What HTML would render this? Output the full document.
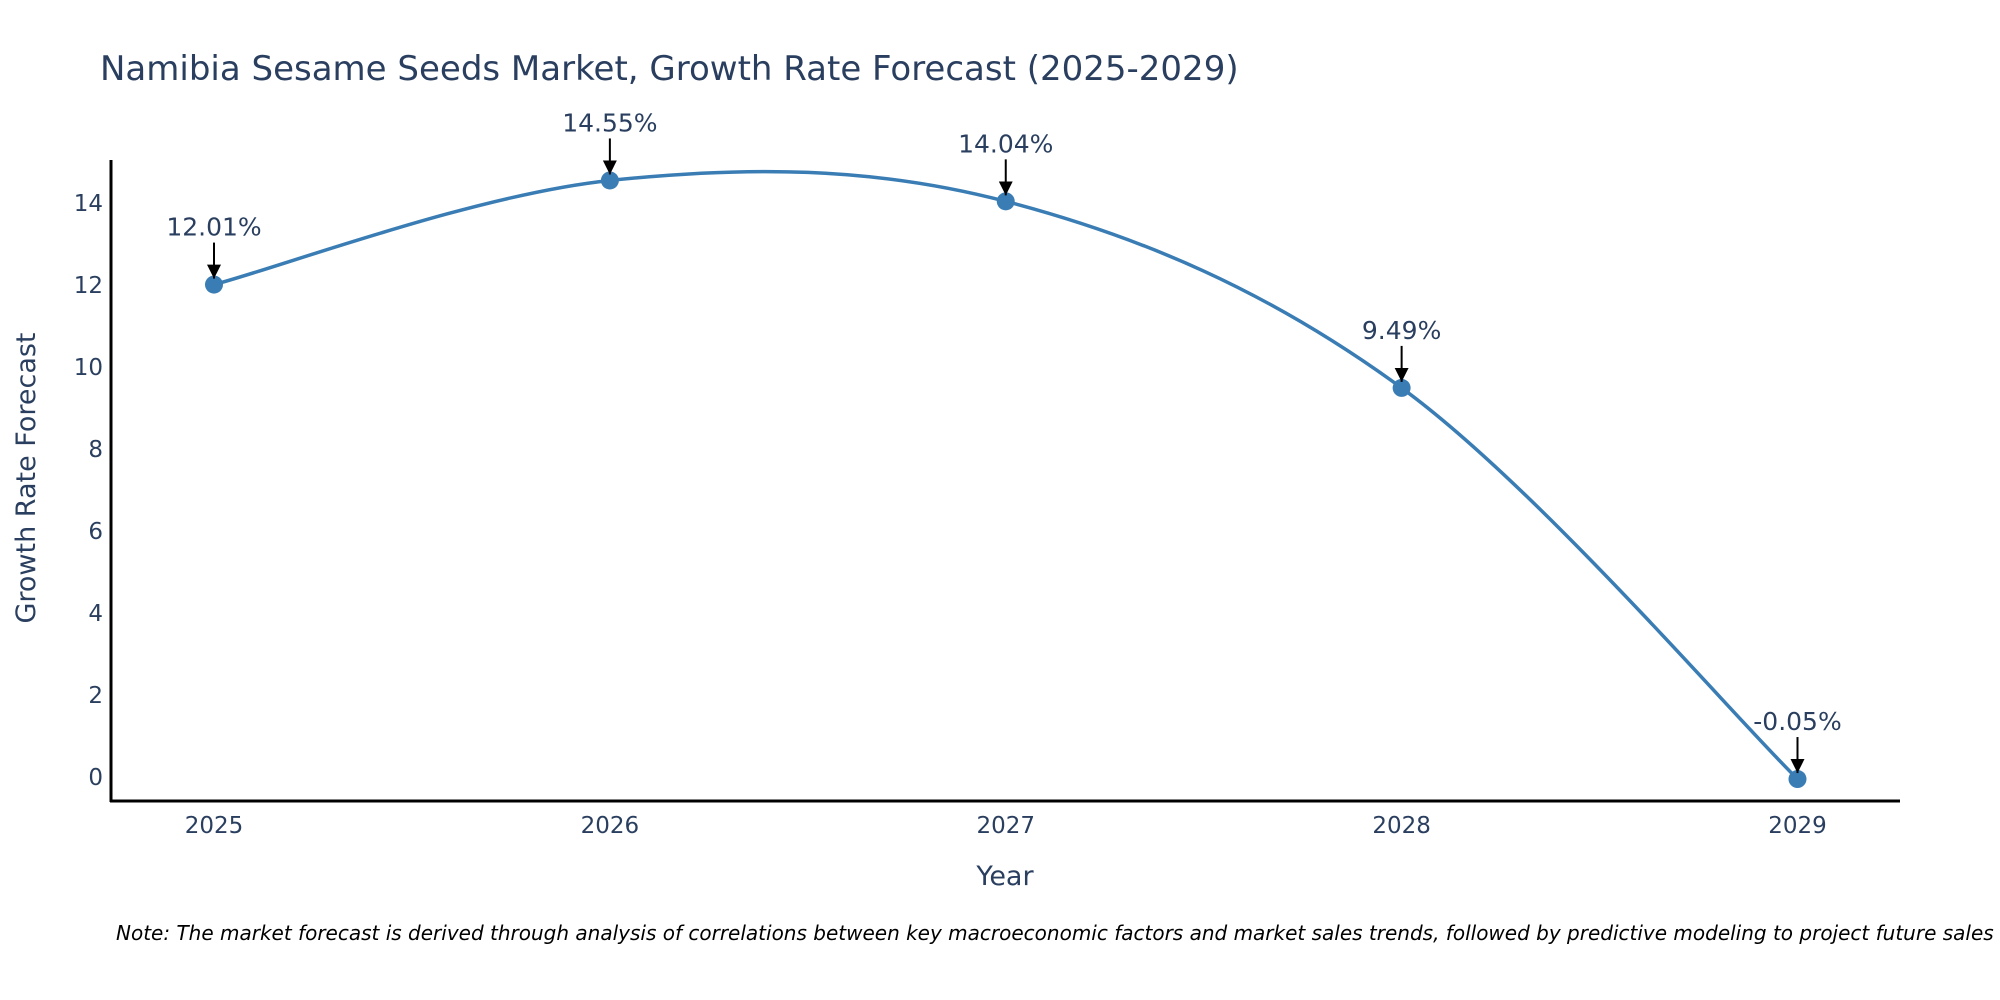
<!DOCTYPE html>
<html><head><meta charset="utf-8"><style>
body{margin:0;background:#fff}
svg{display:block;font-family:"DejaVu Sans","Liberation Sans",sans-serif}
</style></head><body>
<svg id="chart" width="2000" height="1000" viewBox="0 0 2000 1000">
<defs><marker id="arr" viewBox="0 0 14 14" refX="7" refY="14" markerWidth="14" markerHeight="14" markerUnits="userSpaceOnUse" orient="0"><path d="M0,0 L14,0 L7,14 Z" fill="#000"/></marker></defs>
<text x="100" y="80" font-size="34" fill="#2a3f5f">Namibia Sesame Seeds Market, Growth Rate Forecast (2025-2029)</text>
<g id="yticks"></g><g id="xticks"></g>
<line x1="111" y1="160" x2="111" y2="802" stroke="#000" stroke-width="3"/>
<line x1="110" y1="801" x2="1900" y2="801" stroke="#000" stroke-width="3"/>
<path id="line" fill="none" stroke="#3a7db4" stroke-width="3.5"/>
<g id="marks"></g>
<text x="1005" y="885" font-size="27" fill="#2a3f5f" text-anchor="middle">Year</text>
<text transform="translate(35,478) rotate(-90)" font-size="27" fill="#2a3f5f" text-anchor="middle">Growth Rate Forecast</text>
<text x="116" y="940" font-size="20" font-style="italic" fill="#000">Note: The market forecast is derived through analysis of correlations between key macroeconomic factors and market sales trends, followed by predictive modeling to project future sales</text>
</svg>
<script>
const years=["2025","2026","2027","2028","2029"];
const values=[12.01,14.55,14.04,9.49,-0.05];
const labels=["12.01%","14.55%","14.04%","9.49%","-0.05%"];
const yTicks=[0,2,4,6,8,10,12,14];
const NS="http://www.w3.org/2000/svg";
const xs=i=>214+i*(1797.5-214)/(years.length-1);
const ys=v=>777-v*41;
function mk(t,a,p){const e=document.createElementNS(NS,t);for(const k in a)e.setAttribute(k,a[k]);p.appendChild(e);return e;}
const yt=document.getElementById('yticks');
yTicks.forEach(v=>{const t=mk('text',{x:103,y:ys(v)+8,'font-size':23,fill:'#2a3f5f','text-anchor':'end'},yt);


t.textContent=v;});
const xt=document.getElementById('xticks');
years.forEach((y,i)=>{const t=mk('text',{x:xs(i),y:833,'font-size':23,fill:'#2a3f5f','text-anchor':'middle'},xt);


t.textContent=y;});
const P=values.map((v,i)=>[xs(i),ys(v)]);
let d='M'+P[0][0]+','+P[0][1];
const k=0.17;
for(let i=0;i<P.length-1;i++){const p0=P[Math.max(0,i-1)],p1=P[i],p2=P[i+1],p3=P[Math.min(P.length-1,i+2)];
const c1=[p1[0]+(p2[0]-p0[0])*k,p1[1]+(p2[1]-p0[1])*k],c2=[p2[0]-(p3[0]-p1[0])*k,p2[1]-(p3[1]-p1[1])*k];
d+=' C'+c1+' '+c2+' '+p2;}
document.getElementById('line').setAttribute('d',d);
const g=document.getElementById('marks');
values.forEach((v,i)=>{const x=xs(i),y=ys(v);
const c=mk('circle',{cx:x,cy:y,r:9,fill:'#3a7db4'},g);


const l=mk('line',{x1:x,y1:y-42,x2:x,y2:y-6,stroke:'#000','stroke-width':2,'marker-end':'url(#arr)'},g);


const t=mk('text',{x:x,y:y-49,'font-size':25,fill:'#2a3f5f','text-anchor':'middle'},g);


t.textContent=labels[i];});
</script>
</body></html>
